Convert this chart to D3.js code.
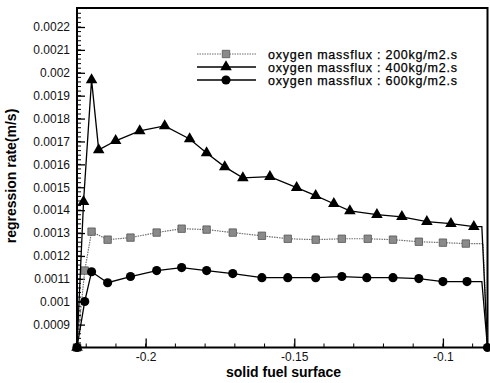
<!DOCTYPE html>
<html lang="en">
<head>
    <meta charset="UTF-8">
    <title>regression rate</title>
    <script src="https://cdn.jsdelivr.net/npm/d3@7"></script>
    <style>
        body { margin: 0; background: #fff; }
        text { font-family: "Liberation Sans", Arial, sans-serif; }
    </style>
</head>
<body>
<script>
    // series data (x = position on solid fuel surface, y = regression rate m/s)
    var x200 = [-0.2231, -0.2205, -0.2182, -0.2128, -0.2051, -0.1963, -0.1879, -0.1795, -0.1707, -0.1609, -0.1522, -0.1428, -0.1340, -0.1253, -0.1168, -0.1081, -0.1000, -0.0923, -0.0865, -0.0850];
    var y200 = [0.0008, 0.001136, 0.001306, 0.001271, 0.001280, 0.001302, 0.001319, 0.001315, 0.001302, 0.001288, 0.001275, 0.001271, 0.001275, 0.001275, 0.001271, 0.001262, 0.001258, 0.001254, 0.001254, 0.0008];

    var x400 = [-0.2231, -0.2209, -0.2182, -0.2158, -0.2101, -0.2020, -0.1936, -0.1852, -0.1795, -0.1734, -0.1673, -0.1582, -0.1492, -0.1428, -0.1367, -0.1313, -0.1222, -0.1138, -0.1054, -0.0973, -0.0896, -0.0869, -0.0850];
    var y400 = [0.0008, 0.001437, 0.001969, 0.001663, 0.001703, 0.001746, 0.001768, 0.001711, 0.001650, 0.001589, 0.001541, 0.001546, 0.001498, 0.001463, 0.001428, 0.001397, 0.001380, 0.001371, 0.001350, 0.001341, 0.001328, 0.001328, 0.0008];

    var x600 = [-0.2231, -0.2205, -0.2182, -0.2128, -0.2051, -0.1963, -0.1879, -0.1795, -0.1707, -0.1609, -0.1522, -0.1428, -0.1340, -0.1256, -0.1168, -0.1081, -0.1000, -0.0919, -0.0869, -0.0850];
    var y600 = [0.0008, 0.001001, 0.001131, 0.001083, 0.001110, 0.001136, 0.001149, 0.001136, 0.001123, 0.001105, 0.001105, 0.001105, 0.001110, 0.001105, 0.001105, 0.001101, 0.001088, 0.001088, 0.001088, 0.0008];

    var legendLabels = ["oxygen massflux : 200kg/m2.s", "oxygen massflux : 400kg/m2.s", "oxygen massflux : 600kg/m2.s"];
    var xTicks = [-0.2, -0.15, -0.1];
    var yTicks = [0.0009, 0.001, 0.0011, 0.0012, 0.0013, 0.0014, 0.0015, 0.0016, 0.0017, 0.0018, 0.0019, 0.002, 0.0021, 0.0022];

    var W = 490, H = 383;
    var pL = 77, pR = 487.5, pT = 8, pB = 347.5;

    var svg = d3.select("body").append("svg").attr("width", W).attr("height", H);

    var x = d3.scaleLinear().domain([-0.2231, -0.0850]).range([pL, pR]);
    var y = d3.scaleLinear().domain([0.0008, 0.002283]).range([pB, pT]);

    // minor ticks
    var xMinor = d3.range(-0.22, -0.085, 0.01);
    var yMinor = d3.range(0.0008, 0.00228, 0.00002);

    svg.append("g").selectAll("line").data(yMinor).enter().append("line")
        .attr("x1", pL).attr("x2", pL + 4)
        .attr("y1", function (d) { return y(d); }).attr("y2", function (d) { return y(d); })
        .attr("stroke", "#000").attr("stroke-width", 1);
    svg.append("g").selectAll("line").data(xMinor).enter().append("line")
        .attr("x1", function (d) { return x(d); }).attr("x2", function (d) { return x(d); })
        .attr("y1", pB).attr("y2", pB - 4)
        .attr("stroke", "#000").attr("stroke-width", 1);

    // axes with major ticks pointing inward
    var yAxis = svg.append("g").attr("transform", "translate(" + pL + ",0)")
        .call(d3.axisLeft(y).tickValues(yTicks).tickSizeInner(-8).tickSizeOuter(0).tickPadding(7)
            .tickFormat(function (d) { return String(+d.toFixed(4)); }));
    var xAxis = svg.append("g").attr("transform", "translate(0," + pB + ")")
        .call(d3.axisBottom(x).tickValues(xTicks).tickSizeInner(-9).tickSizeOuter(0).tickPadding(5)
            .tickFormat(function (d) { return String(d); }));
    [yAxis, xAxis].forEach(function (g) {
        g.select(".domain").remove();
        g.selectAll("line").attr("stroke", "#000").attr("stroke-width", 1.3);
        g.selectAll("text").attr("font-size", "12px").attr("fill", "#111")
            .style("font-family", "'Liberation Sans', Arial, sans-serif");
    });

    // frame
    svg.append("rect").attr("x", pL).attr("y", pT).attr("width", pR - pL).attr("height", pB - pT)
        .attr("fill", "none").attr("stroke", "#000").attr("stroke-width", 2);

    var line = d3.line().x(function (d) { return x(d[0]); }).y(function (d) { return y(d[1]); });

    var series = [
        {xs: x200, ys: y200, stroke: "#6e6e6e", dash: "1.5,1", width: 1.2, shape: d3.symbolSquare, size: 55, fill: "#8a8a8a"},
        {xs: x400, ys: y400, stroke: "#000", dash: null, width: 1.3, shape: d3.symbolTriangle, size: 58, fill: "#000"},
        {xs: x600, ys: y600, stroke: "#000", dash: null, width: 1.3, shape: d3.symbolCircle, size: 66, fill: "#000"}
    ];

    series.forEach(function (s) {
        var pts = s.xs.map(function (v, i) { return [v, s.ys[i]]; });
        svg.append("path").datum(pts).attr("d", line)
            .attr("fill", "none").attr("stroke", s.stroke).attr("stroke-width", s.width)
            .attr("stroke-dasharray", s.dash);
        // the flat point just before the final drop carries no symbol
        var n = pts.length;
        var marks = pts.filter(function (d, i) {
            if (i === n - 2) return false;
            if (i === n - 1) return s.shape === d3.symbolCircle;
            return true;
        });
        svg.append("g").selectAll("path").data(marks).enter().append("path")
            .attr("transform", function (d) { return "translate(" + x(d[0]) + "," + y(d[1]) + ")"; })
            .attr("d", d3.symbol().type(s.shape).size(s.size))
            .attr("fill", s.fill).attr("stroke", s.shape === d3.symbolSquare ? "#555" : "none").attr("stroke-width", 0.8);
    });

    // legend
    var legendY = [54, 67, 80];
    series.forEach(function (s, i) {
        var g = svg.append("g");
        g.append("line").attr("x1", 197).attr("x2", 256).attr("y1", legendY[i]).attr("y2", legendY[i])
            .attr("stroke", s.stroke).attr("stroke-width", s.width).attr("stroke-dasharray", s.dash);
        g.append("path").attr("transform", "translate(226," + legendY[i] + ")")
            .attr("d", d3.symbol().type(s.shape).size(s.size))
            .attr("fill", s.fill).attr("stroke", s.shape === d3.symbolSquare ? "#555" : "none").attr("stroke-width", 0.8);
        g.append("text").attr("x", 268).attr("y", legendY[i] + 4.5)
            .attr("font-size", "12.5px").attr("fill", "#000").attr("textLength", 189)
            .attr("stroke", "#000").attr("stroke-width", 0.25)
            .text(legendLabels[i]);
    });

    // axis titles
    svg.append("text").attr("x", 283.5).attr("y", 377).attr("text-anchor", "middle")
        .attr("font-size", "14px").attr("font-weight", "bold").text("solid fuel surface");
    svg.append("text").attr("transform", "translate(16,176) rotate(-90)").attr("text-anchor", "middle")
        .attr("font-size", "14px").attr("font-weight", "bold").text("regression rate(m/s)");
</script>
</body>
</html>
